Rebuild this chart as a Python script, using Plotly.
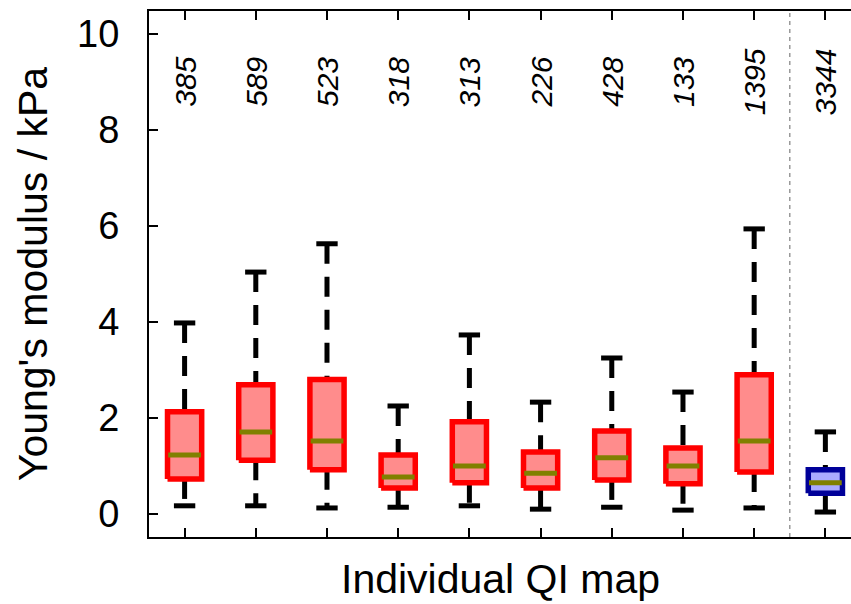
import plotly.graph_objects as go

# ---- data ----
positions = [1, 2, 3, 4, 5, 6, 7, 8, 9, 10]
counts = ["385", "589", "523", "318", "313", "226", "428", "133", "1395", "3344"]
q1 = [0.73, 1.12, 0.92, 0.54, 0.65, 0.54, 0.71, 0.63, 0.875, 0.43]
median = [1.23, 1.71, 1.52, 0.77, 1.00, 0.85, 1.17, 1.00, 1.52, 0.65]
q3 = [2.13, 2.69, 2.80, 1.23, 1.92, 1.29, 1.73, 1.375, 2.90, 0.92]
lower = [0.17, 0.17, 0.125, 0.14, 0.17, 0.10, 0.14, 0.08, 0.125, 0.04]
upper = [3.98, 5.04, 5.63, 2.25, 3.73, 2.33, 3.25, 2.54, 5.94, 1.71]
groups = ["map"] * 9 + ["all"]
y_ticks = [0, 2, 4, 6, 8, 10]

# ---- styles ----
edge = {"map": "#ff0000", "all": "#000099"}
fillc = {"map": "#ff8c8c", "all": "#aaaaff"}
median_color = "#808000"
box_w = 0.48
cap_w = 0.30
font = "Liberation Sans, Arial, sans-serif"

fig = go.Figure()

for i, x in enumerate(positions):
    g = groups[i]
    # whiskers (dashed)
    fig.add_trace(go.Scatter(x=[x, x], y=[upper[i], q3[i]], mode="lines",
                             line=dict(color="black", width=5, dash="20px,13px"),
                             hoverinfo="skip", showlegend=False))
    fig.add_trace(go.Scatter(x=[x, x], y=[q1[i], lower[i]], mode="lines",
                             line=dict(color="black", width=5, dash="20px,13px"),
                             hoverinfo="skip", showlegend=False))
    # caps
    for v in (upper[i], lower[i]):
        fig.add_trace(go.Scatter(x=[x - cap_w / 2, x + cap_w / 2], y=[v, v], mode="lines",
                                 line=dict(color="black", width=5),
                                 hoverinfo="skip", showlegend=False))
    # box
    xl, xr = x - box_w / 2, x + box_w / 2
    fig.add_trace(go.Scatter(x=[xl, xr, xr, xl, xl], y=[q1[i], q1[i], q3[i], q3[i], q1[i]],
                             mode="lines", fill="toself", fillcolor=fillc[g],
                             line=dict(color=edge[g], width=5.5),
                             hoverinfo="skip", showlegend=False))
    # median
    fig.add_trace(go.Scatter(x=[xl + 0.01, xr - 0.01], y=[median[i], median[i]], mode="lines",
                             line=dict(color=median_color, width=5),
                             hoverinfo="skip", showlegend=False))
    # count label
    fig.add_annotation(x=x, y=9.0, xref="x", yref="y", text="<i>%s</i>" % counts[i],
                       textangle=-90, showarrow=False,
                       font=dict(family=font, size=30, color="black"))

# separator between individual maps and pooled data
fig.add_shape(type="line", xref="x", yref="paper", x0=9.5, x1=9.5, y0=0, y1=1,
              line=dict(color="#999999", width=1.5, dash="4px,4px"))

fig.update_layout(
    width=851, height=604,
    margin=dict(l=149, r=0, t=11, b=67),
    paper_bgcolor="white", plot_bgcolor="white",
    font=dict(family=font, color="black"),
    xaxis=dict(range=[0.5, 10.36], tickvals=positions, showticklabels=False,
               ticks="inside", ticklen=9, tickwidth=2, tickcolor="black",
               showline=True, linecolor="black", linewidth=2, mirror="ticks",
               showgrid=False, zeroline=False),
    yaxis=dict(range=[-0.48, 10.48], tickvals=y_ticks, ticktext=[str(t) for t in y_ticks],
               ticks="inside", ticklen=9, tickwidth=2, tickcolor="black",
               showline=True, linecolor="black", linewidth=2,
               ticklabelstandoff=20,
               tickfont=dict(family=font, size=38, color="black"),
               showgrid=False, zeroline=False),
    annotations=list(fig.layout.annotations) + [
        dict(text="Individual QI map", xref="paper", yref="paper", x=0.5, y=-0.08,
             xanchor="center", yanchor="middle", showarrow=False,
             font=dict(family=font, size=41, color="black")),
        dict(text="Young's modulus / kPa", xref="paper", yref="paper", x=-0.165, y=0.5,
             xanchor="center", yanchor="middle", textangle=-90, showarrow=False,
             font=dict(family=font, size=41, color="black")),
    ],
)

fig.write_html("out.html")
